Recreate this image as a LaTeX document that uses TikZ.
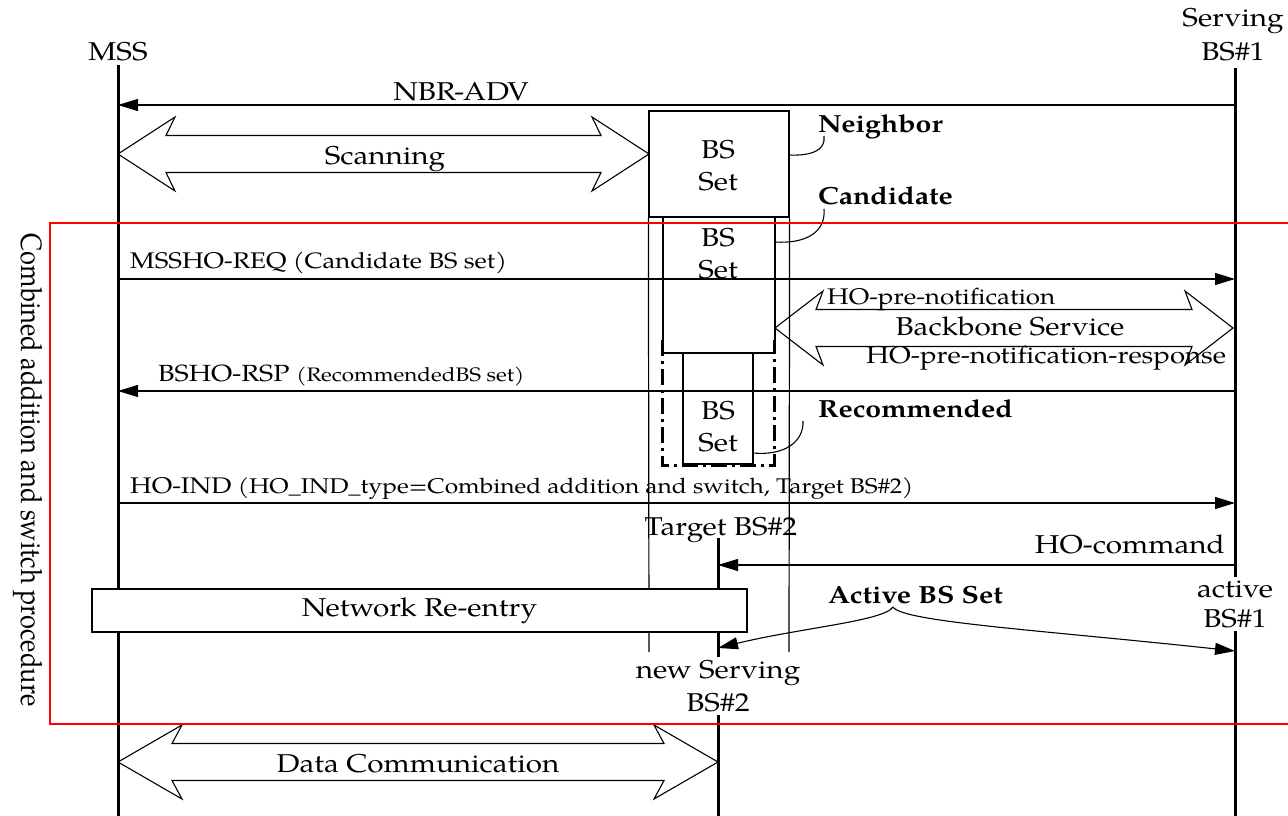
\documentclass[tikz,border=0pt]{standalone}
\usepackage{fontspec}
\setmainfont{texgyrepagella}[Extension=.otf, UprightFont=*-regular, BoldFont=*-bold,
  ItalicFont=*-italic, BoldItalicFont=*-bolditalic, FakeStretch=1.15]
\newfontfamily\plainpag{texgyrepagella}[Extension=.otf, UprightFont=*-regular]
\usetikzlibrary{arrows.meta,calc}

\newcommand\lblfont{\fontsize{25.8}{32}\selectfont}
\newcommand\msgfont{\fontsize{22.6}{28}\selectfont}
\newcommand\notefont[1]{\fontsize{#1}{25}\selectfont}
\newcommand\tagfont{\fontsize{24.8}{30}\selectfont\bfseries}

% two-headed block arrow between two named points: head length, notch depth
\newcommand\twoway[4]{%
  \draw[blockarr] (#1) -- ($(#1)+(#3,-37)$) -- ($(#1)+(#4,-18.5)$)
    -- ($(#2)+(-#4,-18.5)$) -- ($(#2)+(-#3,-37)$) -- (#2)
    -- ($(#2)+(-#3,37)$) -- ($(#2)+(-#4,18.5)$)
    -- ($(#1)+(#4,18.5)$) -- ($(#1)+(#3,37)$) -- cycle;}

\begin{document}
\begin{tikzpicture}[x=1pt,y=-1pt,
  lifeline/.style={line width=3pt},
  thinline/.style={line width=1.2pt},
  msg/.style={line width=1.2pt,-{Triangle[length=20pt,width=12pt]}},
  blockarr/.style={line width=1.1pt, line join=miter},
  setbox/.style={draw, line width=1.2pt, inner sep=0pt},
  callout/.style={line width=1.1pt},
  txt/.style={inner sep=0pt, font=\lblfont},
  msgtxt/.style={inner sep=0pt, font=\msgfont, anchor=base west},
  tag/.style={inner sep=0pt, font=\tagfont, anchor=base west},
  dashdotbox/.style={line width=3pt, dash pattern=on 16pt off 5pt on 3pt off 5pt},
  procframe/.style={draw=red, line width=2.8pt}]

\useasboundingbox (0,0) rectangle (1288,816);
\clip (0,0) rectangle (1288,816);

% ---------- lifeline heads ----------
\node[txt, anchor=base] (mss) at (118,60) {MSS};
\node[txt, align=center] (srv1) at (1233,35) {Serving\\[2pt]BS\#1};
\node[txt, anchor=base] (tgt2) at (721,535) {Target BS\#2};

\coordinate (mssTop) at (118,65);   \coordinate (mssEnd) at (118,816);
\coordinate (s1Top)  at (1235,68);  \coordinate (s1End)  at (1235,816);
\coordinate (t2Top)  at (718,538);  \coordinate (t2End)  at (718,816);

\draw[lifeline] (mssTop) -- (mssEnd);
\draw[lifeline] (s1Top) -- (s1End);
\draw[lifeline] (t2Top) -- (t2End);

% ---------- BS sets ----------
\node[setbox, minimum width=140pt, minimum height=106pt] (nbrset) at (719,164) {};
\node[setbox, minimum width=112pt, minimum height=136pt] (candset) at (719,285) {};
\node[setbox, minimum width=70pt, minimum height=111pt] (recset) at (718,408.5) {};
\node[txt, align=center] (nbrtxt) at (718,166) {BS\\Set};
\node[txt, align=center] (candtxt) at (718,254) {BS\\Set};
\node[txt, align=center] (rectxt) at (718,427) {BS\\Set};

\coordinate (outerL) at (649,652);
\coordinate (outerR) at (789,652);
\draw[thinline] (nbrset.south west) -- (outerL);
\draw[thinline] (nbrset.south east) -- (outerR);

\draw[dashdotbox] (662,340) -- (662,465) -- (774,465) -- (774,340);

% ---------- messages ----------
\coordinate (nbrS) at (1235,105); \coordinate (nbrM) at (118,105);
\draw[msg] (nbrS) -- (nbrM);
\node[txt, anchor=base] (nbrlbl) at (461,100) {NBR-ADV};

\coordinate (scanL) at (118,154); \coordinate (scanR) at (649,154);
\twoway{scanL}{scanR}{57}{48}
\node[txt, anchor=base] (scanlbl) at (385,164) {Scanning};

\coordinate (reqM) at (118,279); \coordinate (reqS) at (1235,279);
\draw[msg] (reqM) -- (reqS);
\node[msgtxt] (reqlbl) at (130,268) {MSSHO-REQ {\notefont{22.2}(Candidate BS set)}};

\coordinate (backL) at (775,328); \coordinate (backR) at (1233,328);
\twoway{backL}{backR}{48}{41}
\node[msgtxt] (prenote) at (827,304) {HO-pre-notification};
\node[txt, anchor=base] (backlbl) at (1010,335) {Backbone Service};
\node[msgtxt, font=\fontsize{24}{28}\selectfont] (prersp) at (866,363) {HO-pre-notification-response};

\coordinate (rspS) at (1235,391); \coordinate (rspM) at (118,391);
\draw[msg] (rspS) -- (rspM);
\node[msgtxt, font=\fontsize{23.4}{28}\selectfont] (rsplbl) at (158,381) {BSHO-RSP {\notefont{19.5}(RecommendedBS set)}};

\coordinate (indM) at (118,503); \coordinate (indS) at (1235,503);
\draw[msg] (indM) -- (indS);
\node[msgtxt] (indlbl) at (130,493) {HO-IND {\notefont{21.3}(HO\_IND\_type=Combined addition and switch, Target BS\#2)}};

\coordinate (cmdS) at (1235,565); \coordinate (cmdT) at (718,565);
\draw[msg] (cmdS) -- (cmdT);
\node[txt, anchor=base east] (cmdlbl) at (1225,553) {HO-command};

% ---------- re-entry and active set ----------
\node[draw, thinline, fill=white, minimum width=655pt, minimum height=43pt, font=\lblfont]
  (reentry) at (419.5,610.5) {Network Re-entry};

\node[txt, align=center, fill=white, inner sep=3pt] (act1) at (1235,604) {active\\[-2pt]BS\#1};
\node[txt, align=center, fill=white, inner sep=3pt] (new2) at (718,686) {new Serving\\[1pt]BS\#2};

\node[tag] (acttag) at (828,603) {Active BS Set};
\coordinate (actTip) at (893,607);
\coordinate (t2act) at (718,648);
\coordinate (s1act) at (1235,651);
\draw[callout,-{Triangle[length=20pt,width=12pt]}] (actTip) .. controls (884,621) and (800,628) .. (t2act);
\draw[callout,-{Triangle[length=20pt,width=12pt]}] (actTip) .. controls (903,622) and (1040,630) .. (s1act);

% ---------- set tags ----------
\node[tag] (nbrtag) at (818,132) {Neighbor};
\node[tag] (candtag) at (818,204) {Candidate};
\node[tag] (rectag) at (818,417) {Recommended};
\coordinate (nbrHook) at (789,155);   \coordinate (nbrEnd) at (824,136);
\coordinate (candHook) at (775,242);  \coordinate (candEnd) at (824,209);
\coordinate (recHook) at (753,453);   \coordinate (recEnd) at (803,421);
\draw[callout] (nbrHook) .. controls (812,156) and (826,150) .. (nbrEnd);
\draw[callout] (candHook) .. controls (806,244) and (826,232) .. (candEnd);
\draw[callout] (recHook) .. controls (784,456) and (804,442) .. (recEnd);

% ---------- data phase ----------
\coordinate (dataL) at (118,762); \coordinate (dataR) at (718,762);
\twoway{dataL}{dataR}{64}{54}
\node[txt, anchor=base] (datalbl) at (418,772) {Data Communication};

% ---------- procedure frame ----------
\draw[procframe] (50,223) rectangle (1330,724);
\node[rotate=-90, inner sep=0pt, font=\plainpag\fontsize{25.5}{30}\selectfont] (proc) at (28,470)
  {\scalebox{1}[1.15]{Combined addition and switch procedure}};
\end{tikzpicture}
\end{document}
